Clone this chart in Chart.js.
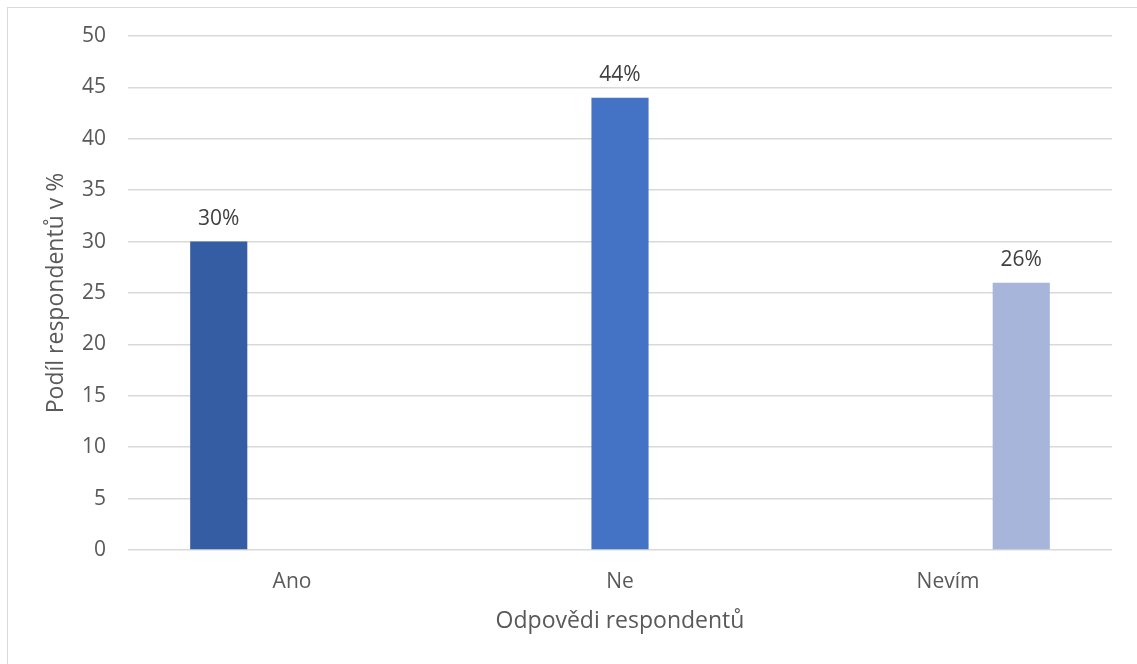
<!DOCTYPE html>
<html lang="cs">
<head>
    <meta charset="UTF-8">
    <title>Odpovědi respondentů</title>
    <style>
        body {
            margin: 0;
            background: #ffffff;
            overflow: hidden;
        }

        .frame {
            position: absolute;
            left: 7px;
            top: 7px;
            width: 1150px;
            height: 680px;
            border: 1px solid #d9d9d9;
        }

        #chart-container {
            position: absolute;
            left: 0;
            top: 0;
            width: 1137px;
            height: 664px;
        }
    </style>
</head>
<body>
    <div class="frame"></div>
    <div id="chart-container">
        <canvas id="barChart" width="1137" height="664"></canvas>
    </div>

    <script src="https://cdn.jsdelivr.net/npm/chart.js"></script>
    <script>
        // data
        const categories = ['Ano', 'Ne', 'Nevím'];
        const seriesNames = ['Ano', 'Ne', 'Nevím'];
        const seriesValues = [
            [30, null, null],
            [null, 44, null],
            [null, null, 26]
        ];
        const seriesColors = ['#355da4', '#4472c4', '#a7b5da'];
        const yTicks = [0, 5, 10, 15, 20, 25, 30, 35, 40, 45, 50];

        const FONT = "'Open Sans', Lato, sans-serif";

        // labels above bars, like Excel data labels
        const valueLabels = {
            id: 'valueLabels',
            afterDatasetsDraw(chart) {
                const ctx = chart.ctx;
                ctx.save();
                ctx.font = '21px ' + FONT;
                ctx.fillStyle = '#404040';
                ctx.textAlign = 'center';
                ctx.textBaseline = 'alphabetic';
                chart.data.datasets.forEach((ds, i) => {
                    chart.getDatasetMeta(i).data.forEach((bar, j) => {
                        const v = ds.data[j];
                        if (v === null) return;
                        ctx.fillText(v + '%', bar.x, bar.y - 17);
                    });
                });
                ctx.restore();
            }
        };

        new Chart(document.getElementById('barChart'), {
            type: 'bar',
            data: {
                labels: categories,
                datasets: seriesNames.map((name, i) => ({
                    label: name,
                    data: seriesValues[i],
                    backgroundColor: seriesColors[i],
                    categoryPercentage: 0.67,
                    barPercentage: 0.78
                }))
            },
            options: {
                responsive: false,
                animation: false,
                layout: {
                    padding: { left: 41, right: 25, top: 36, bottom: 0 }
                },
                plugins: {
                    legend: { display: false },
                    tooltip: { enabled: false }
                },
                scales: {
                    x: {
                        grid: { display: false, drawTicks: false },
                        border: { display: false },
                        ticks: {
                            color: '#595959',
                            font: { family: FONT, size: 21 },
                            padding: 19
                        },
                        title: {
                            display: true,
                            text: 'Odpovědi respondentů',
                            color: '#595959',
                            font: { family: FONT, size: 23 },
                            padding: { top: 0, bottom: 29 }
                        },
                        afterFit(scale) { scale.height = 114; }
                    },
                    y: {
                        min: 0,
                        max: 50,
                        afterBuildTicks(scale) {
                            scale.ticks = yTicks.map(v => ({ value: v }));
                        },
                        grid: {
                            color: '#d9d9d9',
                            lineWidth: 1.5,
                            drawTicks: false
                        },
                        border: { display: false },
                        ticks: {
                            color: '#595959',
                            font: { family: FONT, size: 21 },
                            padding: 22
                        },
                        title: {
                            display: true,
                            text: 'Podíl respondentů v %',
                            color: '#595959',
                            font: { family: FONT, size: 23 },
                            padding: { top: 2, bottom: 0 }
                        },
                        afterFit(scale) { scale.width = 87; }
                    }
                }
            },
            plugins: [valueLabels]
        });
    </script>
</body>
</html>
